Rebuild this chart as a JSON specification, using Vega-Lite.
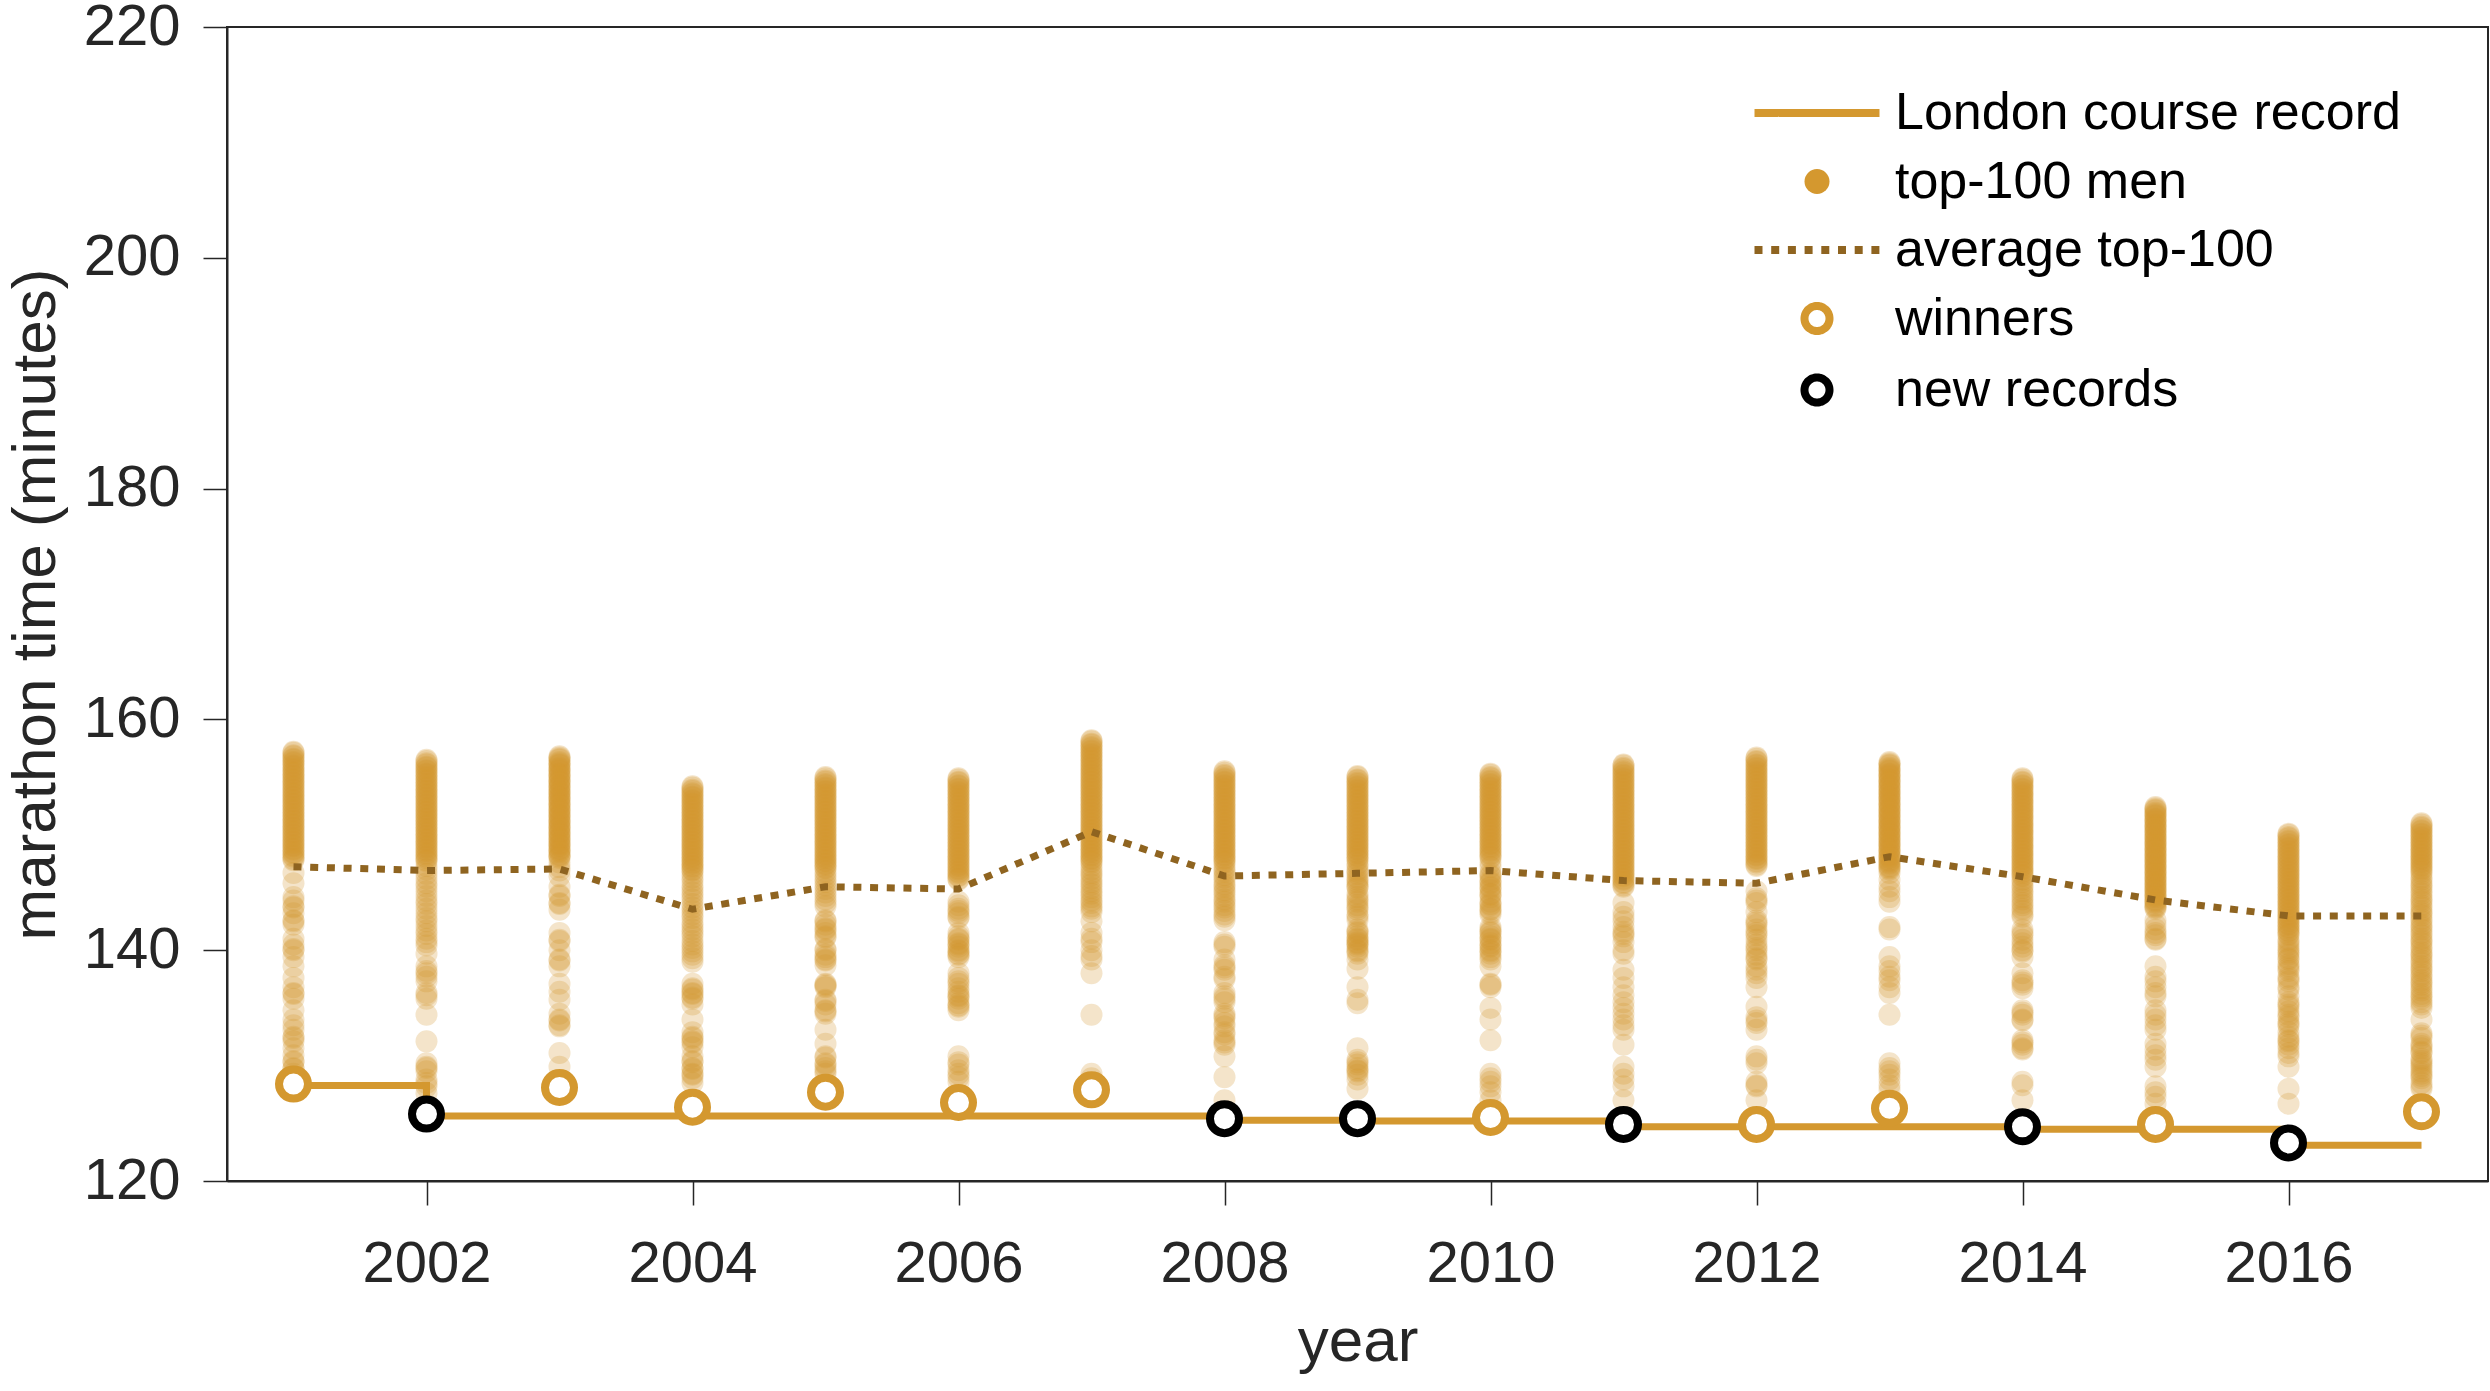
{
"$schema":"https://vega.github.io/schema/vega-lite/v6.json",
"width":2261,"height":1154,
"autosize":{"type":"none"},
"padding":{"left":227,"top":27,"right":2,"bottom":210},
"background":"white",
"config":{
"view":{"stroke":"#262626","strokeWidth":2},
"axis":{"domainColor":"#262626","domainWidth":2,"tickColor":"#262626","tickWidth":1.5,"tickSize":24,"labelFont":"Liberation Sans","labelFontSize":58,"labelColor":"#262626","titleFont":"Liberation Sans","titleFontSize":62,"titleFontWeight":"normal","titleColor":"#262626","grid":false},
"legend":{"orient":"none","legendX":1564,"legendY":60,"padding":0,"rowPadding":13.5,"labelFont":"Liberation Sans","labelFontSize":52,"labelColor":"#000000","labelOffset":52,"labelLimit":1000,"symbolSize":625,"symbolStrokeWidth":8,"symbolOpacity":1}
},
"datasets":{
"rec":[{"yr":2001,"t":128.27},{"yr":2002,"t":125.63},{"yr":2008,"t":125.27},{"yr":2009,"t":125.2},{"yr":2011,"t":124.7},{"yr":2014,"t":124.48},{"yr":2016,"t":123.1},{"yr":2017,"t":123.1}],
"avg":[{"yr":2001,"t":147.24},{"yr":2002,"t":146.9},{"yr":2003,"t":147.04},{"yr":2004,"t":143.55},{"yr":2005,"t":145.5},{"yr":2006,"t":145.3},{"yr":2007,"t":150.27},{"yr":2008,"t":146.43},{"yr":2009,"t":146.66},{"yr":2010,"t":146.9},{"yr":2011,"t":146.03},{"yr":2012,"t":145.8},{"yr":2013,"t":148.1},{"yr":2014,"t":146.37},{"yr":2015,"t":144.35},{"yr":2016,"t":142.97},{"yr":2017,"t":142.97}],
"win":[{"yr":2001,"t":128.4},{"yr":2003,"t":128.1},{"yr":2004,"t":126.4},{"yr":2005,"t":127.7},{"yr":2006,"t":126.8},{"yr":2007,"t":127.9},{"yr":2010,"t":125.5},{"yr":2012,"t":124.9},{"yr":2013,"t":126.3},{"yr":2015,"t":124.9},{"yr":2017,"t":126.0}],
"new":[{"yr":2002,"t":125.8},{"yr":2008,"t":125.4},{"yr":2009,"t":125.4},{"yr":2011,"t":124.9},{"yr":2014,"t":124.7},{"yr":2016,"t":123.3}],
"top":[
{"yr":2001,"t":157.2},{"yr":2001,"t":157.1},{"yr":2001,"t":156.9},{"yr":2001,"t":156.8},{"yr":2001,"t":156.6},{"yr":2001,"t":156.5},{"yr":2001,"t":156.3},{"yr":2001,"t":156.2},{"yr":2001,"t":156.0},{"yr":2001,"t":155.9},{"yr":2001,"t":155.7},{"yr":2001,"t":155.6},{"yr":2001,"t":155.4},{"yr":2001,"t":155.3},{"yr":2001,"t":155.1},{"yr":2001,"t":155.0},{"yr":2001,"t":154.8},{"yr":2001,"t":154.7},{"yr":2001,"t":154.5},{"yr":2001,"t":154.4},{"yr":2001,"t":154.2},{"yr":2001,"t":154.1},{"yr":2001,"t":153.9},{"yr":2001,"t":153.8},{"yr":2001,"t":153.6},{"yr":2001,"t":153.5},{"yr":2001,"t":153.3},{"yr":2001,"t":153.2},{"yr":2001,"t":153.0},{"yr":2001,"t":152.9},{"yr":2001,"t":152.7},{"yr":2001,"t":152.6},{"yr":2001,"t":152.4},{"yr":2001,"t":152.3},{"yr":2001,"t":152.1},{"yr":2001,"t":152.0},{"yr":2001,"t":151.8},{"yr":2001,"t":151.7},{"yr":2001,"t":151.5},{"yr":2001,"t":151.4},{"yr":2001,"t":151.2},{"yr":2001,"t":151.1},{"yr":2001,"t":150.9},{"yr":2001,"t":150.8},{"yr":2001,"t":150.6},{"yr":2001,"t":150.5},{"yr":2001,"t":150.3},{"yr":2001,"t":150.2},{"yr":2001,"t":150.0},{"yr":2001,"t":149.9},{"yr":2001,"t":149.7},{"yr":2001,"t":149.6},{"yr":2001,"t":149.4},{"yr":2001,"t":149.3},{"yr":2001,"t":149.1},{"yr":2001,"t":149.0},{"yr":2001,"t":148.8},{"yr":2001,"t":148.7},{"yr":2001,"t":148.5},{"yr":2001,"t":148.4},{"yr":2001,"t":148.2},{"yr":2001,"t":148.1},{"yr":2001,"t":147.9},{"yr":2001,"t":147.8},
{"yr":2001,"t":146.7},{"yr":2001,"t":145.8},{"yr":2001,"t":144.6},{"yr":2001,"t":144.3},{"yr":2001,"t":143.8},{"yr":2001,"t":143.7},{"yr":2001,"t":143.2},{"yr":2001,"t":142.6},{"yr":2001,"t":142.5},{"yr":2001,"t":142.2},{"yr":2001,"t":141.0},{"yr":2001,"t":140.5},{"yr":2001,"t":140.0},{"yr":2001,"t":140.1},{"yr":2001,"t":139.4},{"yr":2001,"t":138.6},{"yr":2001,"t":137.6},{"yr":2001,"t":136.8},{"yr":2001,"t":136.3},{"yr":2001,"t":136.2},{"yr":2001,"t":135.8},{"yr":2001,"t":134.8},{"yr":2001,"t":134.0},{"yr":2001,"t":133.5},{"yr":2001,"t":133.1},{"yr":2001,"t":132.5},{"yr":2001,"t":132.4},{"yr":2001,"t":132.1},{"yr":2001,"t":131.5},{"yr":2001,"t":130.9},{"yr":2001,"t":130.3},{"yr":2001,"t":130.4},{"yr":2001,"t":129.8},{"yr":2001,"t":129.7},{"yr":2001,"t":129.3},{"yr":2001,"t":128.4},
{"yr":2002,"t":156.5},{"yr":2002,"t":156.4},{"yr":2002,"t":156.2},{"yr":2002,"t":156.1},{"yr":2002,"t":155.9},{"yr":2002,"t":155.8},{"yr":2002,"t":155.6},{"yr":2002,"t":155.5},{"yr":2002,"t":155.3},{"yr":2002,"t":155.2},{"yr":2002,"t":155.0},{"yr":2002,"t":154.9},{"yr":2002,"t":154.7},{"yr":2002,"t":154.6},{"yr":2002,"t":154.4},{"yr":2002,"t":154.3},{"yr":2002,"t":154.1},{"yr":2002,"t":154.0},{"yr":2002,"t":153.8},{"yr":2002,"t":153.7},{"yr":2002,"t":153.5},{"yr":2002,"t":153.4},{"yr":2002,"t":153.2},{"yr":2002,"t":153.1},{"yr":2002,"t":152.9},{"yr":2002,"t":152.8},{"yr":2002,"t":152.6},{"yr":2002,"t":152.5},{"yr":2002,"t":152.3},{"yr":2002,"t":152.2},{"yr":2002,"t":152.0},{"yr":2002,"t":151.9},{"yr":2002,"t":151.7},{"yr":2002,"t":151.6},{"yr":2002,"t":151.4},{"yr":2002,"t":151.3},{"yr":2002,"t":151.1},{"yr":2002,"t":151.0},{"yr":2002,"t":150.8},{"yr":2002,"t":150.7},{"yr":2002,"t":150.5},{"yr":2002,"t":150.4},{"yr":2002,"t":150.2},{"yr":2002,"t":150.1},{"yr":2002,"t":149.9},{"yr":2002,"t":149.8},{"yr":2002,"t":149.6},{"yr":2002,"t":149.5},{"yr":2002,"t":149.3},{"yr":2002,"t":149.2},{"yr":2002,"t":149.0},{"yr":2002,"t":148.9},{"yr":2002,"t":148.7},{"yr":2002,"t":148.6},{"yr":2002,"t":148.4},{"yr":2002,"t":148.3},{"yr":2002,"t":148.1},{"yr":2002,"t":148.0},{"yr":2002,"t":147.8},{"yr":2002,"t":147.7},
{"yr":2002,"t":147.3},{"yr":2002,"t":147.0},{"yr":2002,"t":146.6},{"yr":2002,"t":146.2},{"yr":2002,"t":145.8},{"yr":2002,"t":145.5},{"yr":2002,"t":145.1},{"yr":2002,"t":144.7},{"yr":2002,"t":144.3},{"yr":2002,"t":144.0},{"yr":2002,"t":143.6},{"yr":2002,"t":143.2},{"yr":2002,"t":142.8},{"yr":2002,"t":142.5},{"yr":2002,"t":142.1},{"yr":2002,"t":141.7},{"yr":2002,"t":141.4},{"yr":2002,"t":141.0},{"yr":2002,"t":140.7},{"yr":2002,"t":140.4},
{"yr":2002,"t":139.7},{"yr":2002,"t":138.6},{"yr":2002,"t":138.2},{"yr":2002,"t":138.0},{"yr":2002,"t":137.7},{"yr":2002,"t":137.3},{"yr":2002,"t":136.3},{"yr":2002,"t":136.1},{"yr":2002,"t":135.8},{"yr":2002,"t":134.4},{"yr":2002,"t":132.1},{"yr":2002,"t":130.2},{"yr":2002,"t":129.9},{"yr":2002,"t":129.8},{"yr":2002,"t":129.5},{"yr":2002,"t":128.8},{"yr":2002,"t":128.5},{"yr":2002,"t":128.2},{"yr":2002,"t":127.6},{"yr":2002,"t":125.8},
{"yr":2003,"t":156.8},{"yr":2003,"t":156.7},{"yr":2003,"t":156.6},{"yr":2003,"t":156.5},{"yr":2003,"t":156.3},{"yr":2003,"t":156.2},{"yr":2003,"t":156.1},{"yr":2003,"t":156.0},{"yr":2003,"t":155.8},{"yr":2003,"t":155.7},{"yr":2003,"t":155.6},{"yr":2003,"t":155.5},{"yr":2003,"t":155.3},{"yr":2003,"t":155.2},{"yr":2003,"t":155.1},{"yr":2003,"t":155.0},{"yr":2003,"t":154.8},{"yr":2003,"t":154.7},{"yr":2003,"t":154.6},{"yr":2003,"t":154.5},{"yr":2003,"t":154.3},{"yr":2003,"t":154.2},{"yr":2003,"t":154.1},{"yr":2003,"t":154.0},{"yr":2003,"t":153.8},{"yr":2003,"t":153.7},{"yr":2003,"t":153.6},{"yr":2003,"t":153.5},{"yr":2003,"t":153.3},{"yr":2003,"t":153.2},{"yr":2003,"t":153.1},{"yr":2003,"t":153.0},{"yr":2003,"t":152.8},{"yr":2003,"t":152.7},{"yr":2003,"t":152.6},{"yr":2003,"t":152.5},{"yr":2003,"t":152.3},{"yr":2003,"t":152.2},{"yr":2003,"t":152.1},{"yr":2003,"t":152.0},{"yr":2003,"t":151.8},{"yr":2003,"t":151.7},{"yr":2003,"t":151.6},{"yr":2003,"t":151.5},{"yr":2003,"t":151.3},{"yr":2003,"t":151.2},{"yr":2003,"t":151.1},{"yr":2003,"t":151.0},{"yr":2003,"t":150.8},{"yr":2003,"t":150.7},{"yr":2003,"t":150.6},{"yr":2003,"t":150.5},{"yr":2003,"t":150.3},{"yr":2003,"t":150.2},{"yr":2003,"t":150.1},{"yr":2003,"t":150.0},{"yr":2003,"t":149.8},{"yr":2003,"t":149.7},{"yr":2003,"t":149.6},{"yr":2003,"t":149.5},{"yr":2003,"t":149.3},{"yr":2003,"t":149.2},{"yr":2003,"t":149.1},{"yr":2003,"t":149.0},{"yr":2003,"t":148.8},{"yr":2003,"t":148.7},{"yr":2003,"t":148.6},{"yr":2003,"t":148.5},{"yr":2003,"t":148.3},{"yr":2003,"t":148.2},{"yr":2003,"t":148.1},{"yr":2003,"t":148.0},
{"yr":2003,"t":147.6},{"yr":2003,"t":147.2},{"yr":2003,"t":146.9},{"yr":2003,"t":146.4},{"yr":2003,"t":145.5},{"yr":2003,"t":144.8},{"yr":2003,"t":144.7},{"yr":2003,"t":144.1},{"yr":2003,"t":144.0},{"yr":2003,"t":143.5},{"yr":2003,"t":141.5},{"yr":2003,"t":140.9},{"yr":2003,"t":140.8},{"yr":2003,"t":140.0},{"yr":2003,"t":139.2},{"yr":2003,"t":139.1},{"yr":2003,"t":138.6},{"yr":2003,"t":137.1},{"yr":2003,"t":136.4},{"yr":2003,"t":135.7},{"yr":2003,"t":134.5},{"yr":2003,"t":134.0},{"yr":2003,"t":133.9},{"yr":2003,"t":133.5},{"yr":2003,"t":133.4},{"yr":2003,"t":131.1},{"yr":2003,"t":129.9},{"yr":2003,"t":128.1},
{"yr":2004,"t":154.2},{"yr":2004,"t":154.1},{"yr":2004,"t":153.9},{"yr":2004,"t":153.8},{"yr":2004,"t":153.6},{"yr":2004,"t":153.5},{"yr":2004,"t":153.3},{"yr":2004,"t":153.2},{"yr":2004,"t":153.0},{"yr":2004,"t":152.9},{"yr":2004,"t":152.7},{"yr":2004,"t":152.6},{"yr":2004,"t":152.4},{"yr":2004,"t":152.3},{"yr":2004,"t":152.1},{"yr":2004,"t":152.0},{"yr":2004,"t":151.8},{"yr":2004,"t":151.7},{"yr":2004,"t":151.5},{"yr":2004,"t":151.4},{"yr":2004,"t":151.2},{"yr":2004,"t":151.1},{"yr":2004,"t":150.9},{"yr":2004,"t":150.8},{"yr":2004,"t":150.6},{"yr":2004,"t":150.5},{"yr":2004,"t":150.3},{"yr":2004,"t":150.2},{"yr":2004,"t":150.0},{"yr":2004,"t":149.9},{"yr":2004,"t":149.7},{"yr":2004,"t":149.6},{"yr":2004,"t":149.4},{"yr":2004,"t":149.3},{"yr":2004,"t":149.1},{"yr":2004,"t":149.0},{"yr":2004,"t":148.8},{"yr":2004,"t":148.7},{"yr":2004,"t":148.5},{"yr":2004,"t":148.4},{"yr":2004,"t":148.2},{"yr":2004,"t":148.1},{"yr":2004,"t":147.9},{"yr":2004,"t":147.8},{"yr":2004,"t":147.6},{"yr":2004,"t":147.5},{"yr":2004,"t":147.3},{"yr":2004,"t":147.2},{"yr":2004,"t":147.0},{"yr":2004,"t":146.9},
{"yr":2004,"t":146.6},{"yr":2004,"t":146.3},{"yr":2004,"t":146.0},{"yr":2004,"t":145.6},{"yr":2004,"t":145.3},{"yr":2004,"t":145.0},{"yr":2004,"t":144.7},{"yr":2004,"t":144.4},{"yr":2004,"t":144.0},{"yr":2004,"t":143.7},{"yr":2004,"t":143.4},{"yr":2004,"t":143.1},{"yr":2004,"t":142.8},{"yr":2004,"t":142.4},{"yr":2004,"t":142.1},{"yr":2004,"t":141.8},{"yr":2004,"t":141.5},{"yr":2004,"t":141.2},{"yr":2004,"t":140.8},{"yr":2004,"t":140.5},{"yr":2004,"t":140.2},{"yr":2004,"t":139.9},{"yr":2004,"t":139.6},{"yr":2004,"t":139.3},{"yr":2004,"t":139.0},
{"yr":2004,"t":137.1},{"yr":2004,"t":136.7},{"yr":2004,"t":136.6},{"yr":2004,"t":136.3},{"yr":2004,"t":136.2},{"yr":2004,"t":135.9},{"yr":2004,"t":135.8},{"yr":2004,"t":135.3},{"yr":2004,"t":134.0},{"yr":2004,"t":132.9},{"yr":2004,"t":132.5},{"yr":2004,"t":132.4},{"yr":2004,"t":132.1},{"yr":2004,"t":132.0},{"yr":2004,"t":131.6},{"yr":2004,"t":130.8},{"yr":2004,"t":130.4},{"yr":2004,"t":130.3},{"yr":2004,"t":129.8},{"yr":2004,"t":129.7},{"yr":2004,"t":129.3},{"yr":2004,"t":129.2},{"yr":2004,"t":128.9},{"yr":2004,"t":128.5},{"yr":2004,"t":126.4},
{"yr":2005,"t":155.0},{"yr":2005,"t":154.9},{"yr":2005,"t":154.7},{"yr":2005,"t":154.6},{"yr":2005,"t":154.4},{"yr":2005,"t":154.3},{"yr":2005,"t":154.1},{"yr":2005,"t":154.0},{"yr":2005,"t":153.8},{"yr":2005,"t":153.7},{"yr":2005,"t":153.5},{"yr":2005,"t":153.4},{"yr":2005,"t":153.2},{"yr":2005,"t":153.1},{"yr":2005,"t":152.9},{"yr":2005,"t":152.8},{"yr":2005,"t":152.6},{"yr":2005,"t":152.5},{"yr":2005,"t":152.3},{"yr":2005,"t":152.2},{"yr":2005,"t":152.0},{"yr":2005,"t":151.9},{"yr":2005,"t":151.7},{"yr":2005,"t":151.6},{"yr":2005,"t":151.4},{"yr":2005,"t":151.3},{"yr":2005,"t":151.1},{"yr":2005,"t":151.0},{"yr":2005,"t":150.8},{"yr":2005,"t":150.7},{"yr":2005,"t":150.5},{"yr":2005,"t":150.4},{"yr":2005,"t":150.2},{"yr":2005,"t":150.1},{"yr":2005,"t":149.9},{"yr":2005,"t":149.8},{"yr":2005,"t":149.6},{"yr":2005,"t":149.5},{"yr":2005,"t":149.3},{"yr":2005,"t":149.2},{"yr":2005,"t":149.0},{"yr":2005,"t":148.9},{"yr":2005,"t":148.7},{"yr":2005,"t":148.6},{"yr":2005,"t":148.4},{"yr":2005,"t":148.3},{"yr":2005,"t":148.1},{"yr":2005,"t":148.0},{"yr":2005,"t":147.8},{"yr":2005,"t":147.7},{"yr":2005,"t":147.5},{"yr":2005,"t":147.4},{"yr":2005,"t":147.2},{"yr":2005,"t":147.1},
{"yr":2005,"t":146.8},{"yr":2005,"t":146.5},{"yr":2005,"t":146.2},{"yr":2005,"t":145.9},{"yr":2005,"t":145.6},{"yr":2005,"t":145.3},{"yr":2005,"t":145.0},{"yr":2005,"t":144.7},{"yr":2005,"t":144.4},{"yr":2005,"t":144.1},{"yr":2005,"t":143.8},
{"yr":2005,"t":142.6},{"yr":2005,"t":142.5},{"yr":2005,"t":142.2},{"yr":2005,"t":141.9},{"yr":2005,"t":141.8},{"yr":2005,"t":141.5},{"yr":2005,"t":141.2},{"yr":2005,"t":141.1},{"yr":2005,"t":140.0},{"yr":2005,"t":140.1},{"yr":2005,"t":139.6},{"yr":2005,"t":139.4},{"yr":2005,"t":139.2},{"yr":2005,"t":139.1},{"yr":2005,"t":138.7},{"yr":2005,"t":137.1},{"yr":2005,"t":137.0},{"yr":2005,"t":136.8},{"yr":2005,"t":136.9},{"yr":2005,"t":135.7},{"yr":2005,"t":135.6},{"yr":2005,"t":135.3},{"yr":2005,"t":134.8},{"yr":2005,"t":134.7},{"yr":2005,"t":134.5},{"yr":2005,"t":133.1},{"yr":2005,"t":131.9},{"yr":2005,"t":130.8},{"yr":2005,"t":130.7},{"yr":2005,"t":130.2},{"yr":2005,"t":130.1},{"yr":2005,"t":129.8},{"yr":2005,"t":129.5},{"yr":2005,"t":129.3},{"yr":2005,"t":127.7},
{"yr":2006,"t":154.9},{"yr":2006,"t":154.8},{"yr":2006,"t":154.6},{"yr":2006,"t":154.5},{"yr":2006,"t":154.3},{"yr":2006,"t":154.2},{"yr":2006,"t":154.0},{"yr":2006,"t":153.9},{"yr":2006,"t":153.7},{"yr":2006,"t":153.6},{"yr":2006,"t":153.4},{"yr":2006,"t":153.3},{"yr":2006,"t":153.1},{"yr":2006,"t":153.0},{"yr":2006,"t":152.8},{"yr":2006,"t":152.7},{"yr":2006,"t":152.5},{"yr":2006,"t":152.4},{"yr":2006,"t":152.2},{"yr":2006,"t":152.1},{"yr":2006,"t":151.9},{"yr":2006,"t":151.8},{"yr":2006,"t":151.6},{"yr":2006,"t":151.5},{"yr":2006,"t":151.3},{"yr":2006,"t":151.2},{"yr":2006,"t":151.0},{"yr":2006,"t":150.9},{"yr":2006,"t":150.7},{"yr":2006,"t":150.6},{"yr":2006,"t":150.4},{"yr":2006,"t":150.3},{"yr":2006,"t":150.1},{"yr":2006,"t":150.0},{"yr":2006,"t":149.8},{"yr":2006,"t":149.7},{"yr":2006,"t":149.5},{"yr":2006,"t":149.4},{"yr":2006,"t":149.2},{"yr":2006,"t":149.1},{"yr":2006,"t":148.9},{"yr":2006,"t":148.8},{"yr":2006,"t":148.6},{"yr":2006,"t":148.5},{"yr":2006,"t":148.3},{"yr":2006,"t":148.2},{"yr":2006,"t":148.0},{"yr":2006,"t":147.9},{"yr":2006,"t":147.7},{"yr":2006,"t":147.6},{"yr":2006,"t":147.4},{"yr":2006,"t":147.3},{"yr":2006,"t":147.1},{"yr":2006,"t":147.0},{"yr":2006,"t":146.8},{"yr":2006,"t":146.7},{"yr":2006,"t":146.5},{"yr":2006,"t":146.4},{"yr":2006,"t":146.2},{"yr":2006,"t":146.1},
{"yr":2006,"t":144.2},{"yr":2006,"t":143.9},{"yr":2006,"t":143.6},{"yr":2006,"t":143.4},{"yr":2006,"t":143.2},{"yr":2006,"t":142.9},{"yr":2006,"t":142.8},{"yr":2006,"t":141.5},{"yr":2006,"t":141.2},{"yr":2006,"t":141.0},{"yr":2006,"t":140.9},{"yr":2006,"t":140.6},{"yr":2006,"t":140.5},{"yr":2006,"t":140.3},{"yr":2006,"t":140.0},{"yr":2006,"t":139.9},{"yr":2006,"t":139.7},{"yr":2006,"t":139.6},{"yr":2006,"t":139.4},{"yr":2006,"t":138.0},{"yr":2006,"t":137.6},{"yr":2006,"t":137.3},{"yr":2006,"t":137.1},{"yr":2006,"t":136.7},{"yr":2006,"t":136.4},{"yr":2006,"t":136.1},{"yr":2006,"t":136.0},{"yr":2006,"t":135.8},{"yr":2006,"t":135.4},{"yr":2006,"t":135.2},{"yr":2006,"t":135.1},{"yr":2006,"t":134.8},{"yr":2006,"t":130.8},{"yr":2006,"t":130.3},{"yr":2006,"t":130.1},{"yr":2006,"t":129.6},{"yr":2006,"t":129.3},{"yr":2006,"t":129.0},{"yr":2006,"t":128.6},{"yr":2006,"t":126.8},
{"yr":2007,"t":158.2},{"yr":2007,"t":158.1},{"yr":2007,"t":157.9},{"yr":2007,"t":157.8},{"yr":2007,"t":157.6},{"yr":2007,"t":157.5},{"yr":2007,"t":157.3},{"yr":2007,"t":157.2},{"yr":2007,"t":157.0},{"yr":2007,"t":156.9},{"yr":2007,"t":156.7},{"yr":2007,"t":156.6},{"yr":2007,"t":156.4},{"yr":2007,"t":156.3},{"yr":2007,"t":156.1},{"yr":2007,"t":156.0},{"yr":2007,"t":155.8},{"yr":2007,"t":155.7},{"yr":2007,"t":155.5},{"yr":2007,"t":155.4},{"yr":2007,"t":155.2},{"yr":2007,"t":155.1},{"yr":2007,"t":154.9},{"yr":2007,"t":154.8},{"yr":2007,"t":154.6},{"yr":2007,"t":154.5},{"yr":2007,"t":154.3},{"yr":2007,"t":154.2},{"yr":2007,"t":154.0},{"yr":2007,"t":153.9},{"yr":2007,"t":153.7},{"yr":2007,"t":153.6},{"yr":2007,"t":153.4},{"yr":2007,"t":153.3},{"yr":2007,"t":153.1},{"yr":2007,"t":153.0},{"yr":2007,"t":152.8},{"yr":2007,"t":152.7},{"yr":2007,"t":152.5},{"yr":2007,"t":152.4},{"yr":2007,"t":152.2},{"yr":2007,"t":152.1},{"yr":2007,"t":151.9},{"yr":2007,"t":151.8},{"yr":2007,"t":151.6},{"yr":2007,"t":151.5},{"yr":2007,"t":151.3},{"yr":2007,"t":151.2},{"yr":2007,"t":151.0},{"yr":2007,"t":150.9},{"yr":2007,"t":150.7},{"yr":2007,"t":150.6},{"yr":2007,"t":150.4},{"yr":2007,"t":150.3},{"yr":2007,"t":150.1},{"yr":2007,"t":150.0},{"yr":2007,"t":149.8},{"yr":2007,"t":149.7},{"yr":2007,"t":149.5},{"yr":2007,"t":149.4},{"yr":2007,"t":149.2},{"yr":2007,"t":149.1},{"yr":2007,"t":148.9},{"yr":2007,"t":148.8},{"yr":2007,"t":148.6},{"yr":2007,"t":148.5},{"yr":2007,"t":148.3},{"yr":2007,"t":148.2},{"yr":2007,"t":148.0},{"yr":2007,"t":147.9},{"yr":2007,"t":147.7},{"yr":2007,"t":147.6},
{"yr":2007,"t":147.3},{"yr":2007,"t":147.0},{"yr":2007,"t":146.7},{"yr":2007,"t":146.5},{"yr":2007,"t":146.2},{"yr":2007,"t":145.9},{"yr":2007,"t":145.7},{"yr":2007,"t":145.4},{"yr":2007,"t":145.1},{"yr":2007,"t":144.9},{"yr":2007,"t":144.6},{"yr":2007,"t":144.3},{"yr":2007,"t":144.1},{"yr":2007,"t":143.8},{"yr":2007,"t":143.6},{"yr":2007,"t":143.3},
{"yr":2007,"t":142.5},{"yr":2007,"t":141.5},{"yr":2007,"t":141.0},{"yr":2007,"t":140.7},{"yr":2007,"t":140.0},{"yr":2007,"t":139.5},{"yr":2007,"t":139.2},{"yr":2007,"t":138.0},{"yr":2007,"t":134.4},{"yr":2007,"t":129.3},{"yr":2007,"t":128.9},{"yr":2007,"t":127.9},
{"yr":2008,"t":155.5},{"yr":2008,"t":155.4},{"yr":2008,"t":155.2},{"yr":2008,"t":155.1},{"yr":2008,"t":154.9},{"yr":2008,"t":154.8},{"yr":2008,"t":154.6},{"yr":2008,"t":154.5},{"yr":2008,"t":154.3},{"yr":2008,"t":154.2},{"yr":2008,"t":154.0},{"yr":2008,"t":153.9},{"yr":2008,"t":153.7},{"yr":2008,"t":153.6},{"yr":2008,"t":153.4},{"yr":2008,"t":153.3},{"yr":2008,"t":153.1},{"yr":2008,"t":153.0},{"yr":2008,"t":152.8},{"yr":2008,"t":152.7},{"yr":2008,"t":152.5},{"yr":2008,"t":152.4},{"yr":2008,"t":152.2},{"yr":2008,"t":152.1},{"yr":2008,"t":151.9},{"yr":2008,"t":151.8},{"yr":2008,"t":151.6},{"yr":2008,"t":151.5},{"yr":2008,"t":151.3},{"yr":2008,"t":151.2},{"yr":2008,"t":151.0},{"yr":2008,"t":150.9},{"yr":2008,"t":150.7},{"yr":2008,"t":150.6},{"yr":2008,"t":150.4},{"yr":2008,"t":150.3},{"yr":2008,"t":150.1},{"yr":2008,"t":150.0},{"yr":2008,"t":149.8},{"yr":2008,"t":149.7},{"yr":2008,"t":149.5},{"yr":2008,"t":149.4},{"yr":2008,"t":149.2},{"yr":2008,"t":149.1},{"yr":2008,"t":148.9},{"yr":2008,"t":148.8},{"yr":2008,"t":148.6},{"yr":2008,"t":148.5},{"yr":2008,"t":148.3},{"yr":2008,"t":148.2},{"yr":2008,"t":148.0},{"yr":2008,"t":147.9},{"yr":2008,"t":147.7},{"yr":2008,"t":147.6},
{"yr":2008,"t":147.3},{"yr":2008,"t":147.0},{"yr":2008,"t":146.8},{"yr":2008,"t":146.5},{"yr":2008,"t":146.3},{"yr":2008,"t":146.0},{"yr":2008,"t":145.7},{"yr":2008,"t":145.5},{"yr":2008,"t":145.2},{"yr":2008,"t":145.0},{"yr":2008,"t":144.7},{"yr":2008,"t":144.4},{"yr":2008,"t":144.2},{"yr":2008,"t":143.9},{"yr":2008,"t":143.7},{"yr":2008,"t":143.4},{"yr":2008,"t":143.1},{"yr":2008,"t":142.9},
{"yr":2008,"t":142.6},{"yr":2008,"t":140.7},{"yr":2008,"t":140.5},{"yr":2008,"t":140.3},{"yr":2008,"t":139.2},{"yr":2008,"t":138.7},{"yr":2008,"t":138.5},{"yr":2008,"t":138.3},{"yr":2008,"t":137.7},{"yr":2008,"t":137.5},{"yr":2008,"t":136.3},{"yr":2008,"t":136.0},{"yr":2008,"t":135.8},{"yr":2008,"t":135.5},{"yr":2008,"t":134.5},{"yr":2008,"t":134.3},{"yr":2008,"t":134.1},{"yr":2008,"t":133.7},{"yr":2008,"t":133.4},{"yr":2008,"t":132.9},{"yr":2008,"t":132.7},{"yr":2008,"t":132.2},{"yr":2008,"t":132.0},{"yr":2008,"t":131.8},{"yr":2008,"t":130.8},{"yr":2008,"t":129.0},{"yr":2008,"t":127.0},{"yr":2008,"t":125.4},
{"yr":2009,"t":155.1},{"yr":2009,"t":155.0},{"yr":2009,"t":154.8},{"yr":2009,"t":154.7},{"yr":2009,"t":154.5},{"yr":2009,"t":154.4},{"yr":2009,"t":154.2},{"yr":2009,"t":154.1},{"yr":2009,"t":153.9},{"yr":2009,"t":153.8},{"yr":2009,"t":153.6},{"yr":2009,"t":153.5},{"yr":2009,"t":153.3},{"yr":2009,"t":153.2},{"yr":2009,"t":153.0},{"yr":2009,"t":152.9},{"yr":2009,"t":152.7},{"yr":2009,"t":152.6},{"yr":2009,"t":152.4},{"yr":2009,"t":152.3},{"yr":2009,"t":152.1},{"yr":2009,"t":152.0},{"yr":2009,"t":151.8},{"yr":2009,"t":151.7},{"yr":2009,"t":151.5},{"yr":2009,"t":151.4},{"yr":2009,"t":151.2},{"yr":2009,"t":151.1},{"yr":2009,"t":150.9},{"yr":2009,"t":150.8},{"yr":2009,"t":150.6},{"yr":2009,"t":150.5},{"yr":2009,"t":150.3},{"yr":2009,"t":150.2},{"yr":2009,"t":150.0},{"yr":2009,"t":149.9},{"yr":2009,"t":149.7},{"yr":2009,"t":149.6},{"yr":2009,"t":149.4},{"yr":2009,"t":149.3},{"yr":2009,"t":149.1},{"yr":2009,"t":149.0},{"yr":2009,"t":148.8},{"yr":2009,"t":148.7},{"yr":2009,"t":148.5},{"yr":2009,"t":148.4},{"yr":2009,"t":148.2},{"yr":2009,"t":148.1},{"yr":2009,"t":147.9},{"yr":2009,"t":147.8},
{"yr":2009,"t":147.5},{"yr":2009,"t":147.3},{"yr":2009,"t":147.0},{"yr":2009,"t":146.8},{"yr":2009,"t":146.6},{"yr":2009,"t":146.3},{"yr":2009,"t":146.1},{"yr":2009,"t":145.9},{"yr":2009,"t":145.7},{"yr":2009,"t":145.5},
{"yr":2009,"t":145.4},{"yr":2009,"t":144.9},{"yr":2009,"t":144.6},{"yr":2009,"t":144.4},{"yr":2009,"t":144.2},{"yr":2009,"t":143.9},{"yr":2009,"t":143.7},{"yr":2009,"t":143.5},{"yr":2009,"t":143.1},{"yr":2009,"t":142.9},{"yr":2009,"t":142.6},{"yr":2009,"t":141.8},{"yr":2009,"t":141.6},{"yr":2009,"t":141.5},{"yr":2009,"t":141.2},{"yr":2009,"t":141.0},{"yr":2009,"t":140.9},{"yr":2009,"t":140.7},{"yr":2009,"t":140.6},{"yr":2009,"t":140.5},{"yr":2009,"t":140.3},{"yr":2009,"t":140.0},{"yr":2009,"t":139.9},{"yr":2009,"t":139.7},{"yr":2009,"t":139.2},{"yr":2009,"t":138.4},{"yr":2009,"t":136.8},{"yr":2009,"t":135.7},{"yr":2009,"t":135.4},{"yr":2009,"t":131.5},{"yr":2009,"t":130.5},{"yr":2009,"t":130.3},{"yr":2009,"t":130.1},{"yr":2009,"t":129.8},{"yr":2009,"t":129.6},{"yr":2009,"t":129.5},{"yr":2009,"t":129.2},{"yr":2009,"t":128.8},{"yr":2009,"t":128.0},{"yr":2009,"t":125.4},
{"yr":2010,"t":155.3},{"yr":2010,"t":155.2},{"yr":2010,"t":155.0},{"yr":2010,"t":154.9},{"yr":2010,"t":154.7},{"yr":2010,"t":154.6},{"yr":2010,"t":154.4},{"yr":2010,"t":154.3},{"yr":2010,"t":154.1},{"yr":2010,"t":154.0},{"yr":2010,"t":153.8},{"yr":2010,"t":153.7},{"yr":2010,"t":153.5},{"yr":2010,"t":153.4},{"yr":2010,"t":153.2},{"yr":2010,"t":153.1},{"yr":2010,"t":152.9},{"yr":2010,"t":152.8},{"yr":2010,"t":152.6},{"yr":2010,"t":152.5},{"yr":2010,"t":152.3},{"yr":2010,"t":152.2},{"yr":2010,"t":152.0},{"yr":2010,"t":151.9},{"yr":2010,"t":151.7},{"yr":2010,"t":151.6},{"yr":2010,"t":151.4},{"yr":2010,"t":151.3},{"yr":2010,"t":151.1},{"yr":2010,"t":151.0},{"yr":2010,"t":150.8},{"yr":2010,"t":150.7},{"yr":2010,"t":150.5},{"yr":2010,"t":150.4},{"yr":2010,"t":150.2},{"yr":2010,"t":150.1},{"yr":2010,"t":149.9},{"yr":2010,"t":149.8},{"yr":2010,"t":149.6},{"yr":2010,"t":149.5},{"yr":2010,"t":149.3},{"yr":2010,"t":149.2},{"yr":2010,"t":149.0},{"yr":2010,"t":148.9},{"yr":2010,"t":148.7},{"yr":2010,"t":148.6},{"yr":2010,"t":148.4},{"yr":2010,"t":148.3},{"yr":2010,"t":148.1},{"yr":2010,"t":148.0},
{"yr":2010,"t":147.6},{"yr":2010,"t":147.2},{"yr":2010,"t":146.7},{"yr":2010,"t":146.4},{"yr":2010,"t":146.5},{"yr":2010,"t":146.1},{"yr":2010,"t":145.9},{"yr":2010,"t":145.8},{"yr":2010,"t":145.5},{"yr":2010,"t":145.4},{"yr":2010,"t":145.2},{"yr":2010,"t":144.9},{"yr":2010,"t":144.8},{"yr":2010,"t":144.6},{"yr":2010,"t":144.2},{"yr":2010,"t":144.0},{"yr":2010,"t":143.9},{"yr":2010,"t":143.6},{"yr":2010,"t":143.5},{"yr":2010,"t":143.3},{"yr":2010,"t":143.1},{"yr":2010,"t":142.0},{"yr":2010,"t":141.8},{"yr":2010,"t":141.6},{"yr":2010,"t":141.5},{"yr":2010,"t":141.2},{"yr":2010,"t":141.0},{"yr":2010,"t":140.9},{"yr":2010,"t":140.6},{"yr":2010,"t":140.4},{"yr":2010,"t":140.3},{"yr":2010,"t":140.0},{"yr":2010,"t":139.9},{"yr":2010,"t":139.7},{"yr":2010,"t":139.4},{"yr":2010,"t":139.2},{"yr":2010,"t":138.6},{"yr":2010,"t":137.1},{"yr":2010,"t":137.0},{"yr":2010,"t":136.8},{"yr":2010,"t":135.0},{"yr":2010,"t":134.0},{"yr":2010,"t":132.2},{"yr":2010,"t":129.3},{"yr":2010,"t":128.9},{"yr":2010,"t":128.6},{"yr":2010,"t":125.5},{"yr":2010,"t":128.2},{"yr":2010,"t":127.7},{"yr":2010,"t":127.0},
{"yr":2011,"t":156.1},{"yr":2011,"t":156.0},{"yr":2011,"t":155.8},{"yr":2011,"t":155.7},{"yr":2011,"t":155.5},{"yr":2011,"t":155.4},{"yr":2011,"t":155.2},{"yr":2011,"t":155.1},{"yr":2011,"t":154.9},{"yr":2011,"t":154.8},{"yr":2011,"t":154.6},{"yr":2011,"t":154.5},{"yr":2011,"t":154.3},{"yr":2011,"t":154.2},{"yr":2011,"t":154.0},{"yr":2011,"t":153.9},{"yr":2011,"t":153.7},{"yr":2011,"t":153.6},{"yr":2011,"t":153.4},{"yr":2011,"t":153.3},{"yr":2011,"t":153.1},{"yr":2011,"t":153.0},{"yr":2011,"t":152.8},{"yr":2011,"t":152.7},{"yr":2011,"t":152.5},{"yr":2011,"t":152.4},{"yr":2011,"t":152.2},{"yr":2011,"t":152.1},{"yr":2011,"t":151.9},{"yr":2011,"t":151.8},{"yr":2011,"t":151.6},{"yr":2011,"t":151.5},{"yr":2011,"t":151.3},{"yr":2011,"t":151.2},{"yr":2011,"t":151.0},{"yr":2011,"t":150.9},{"yr":2011,"t":150.7},{"yr":2011,"t":150.6},{"yr":2011,"t":150.4},{"yr":2011,"t":150.3},{"yr":2011,"t":150.1},{"yr":2011,"t":150.0},{"yr":2011,"t":149.8},{"yr":2011,"t":149.7},{"yr":2011,"t":149.5},{"yr":2011,"t":149.4},{"yr":2011,"t":149.2},{"yr":2011,"t":149.1},{"yr":2011,"t":148.9},{"yr":2011,"t":148.8},{"yr":2011,"t":148.6},{"yr":2011,"t":148.5},{"yr":2011,"t":148.3},{"yr":2011,"t":148.2},{"yr":2011,"t":148.0},{"yr":2011,"t":147.9},{"yr":2011,"t":147.7},{"yr":2011,"t":147.6},{"yr":2011,"t":147.4},{"yr":2011,"t":147.3},{"yr":2011,"t":147.1},{"yr":2011,"t":147.0},{"yr":2011,"t":146.8},{"yr":2011,"t":146.7},{"yr":2011,"t":146.5},{"yr":2011,"t":146.4},{"yr":2011,"t":146.2},{"yr":2011,"t":146.1},{"yr":2011,"t":145.9},{"yr":2011,"t":145.8},{"yr":2011,"t":145.6},{"yr":2011,"t":145.5},
{"yr":2011,"t":144.1},{"yr":2011,"t":143.3},{"yr":2011,"t":142.9},{"yr":2011,"t":142.5},{"yr":2011,"t":142.0},{"yr":2011,"t":141.6},{"yr":2011,"t":141.4},{"yr":2011,"t":141.2},{"yr":2011,"t":140.7},{"yr":2011,"t":140.0},{"yr":2011,"t":139.7},{"yr":2011,"t":138.3},{"yr":2011,"t":137.6},{"yr":2011,"t":136.8},{"yr":2011,"t":136.1},{"yr":2011,"t":135.5},{"yr":2011,"t":135.0},{"yr":2011,"t":134.5},{"yr":2011,"t":134.0},{"yr":2011,"t":133.5},{"yr":2011,"t":133.1},{"yr":2011,"t":131.8},{"yr":2011,"t":129.9},{"yr":2011,"t":129.3},{"yr":2011,"t":128.8},{"yr":2011,"t":128.2},{"yr":2011,"t":127.0},{"yr":2011,"t":124.9},
{"yr":2012,"t":156.7},{"yr":2012,"t":156.6},{"yr":2012,"t":156.4},{"yr":2012,"t":156.3},{"yr":2012,"t":156.1},{"yr":2012,"t":156.0},{"yr":2012,"t":155.8},{"yr":2012,"t":155.7},{"yr":2012,"t":155.5},{"yr":2012,"t":155.4},{"yr":2012,"t":155.2},{"yr":2012,"t":155.1},{"yr":2012,"t":154.9},{"yr":2012,"t":154.8},{"yr":2012,"t":154.6},{"yr":2012,"t":154.5},{"yr":2012,"t":154.3},{"yr":2012,"t":154.2},{"yr":2012,"t":154.0},{"yr":2012,"t":153.9},{"yr":2012,"t":153.7},{"yr":2012,"t":153.6},{"yr":2012,"t":153.4},{"yr":2012,"t":153.3},{"yr":2012,"t":153.1},{"yr":2012,"t":153.0},{"yr":2012,"t":152.8},{"yr":2012,"t":152.7},{"yr":2012,"t":152.5},{"yr":2012,"t":152.4},{"yr":2012,"t":152.2},{"yr":2012,"t":152.1},{"yr":2012,"t":151.9},{"yr":2012,"t":151.8},{"yr":2012,"t":151.6},{"yr":2012,"t":151.5},{"yr":2012,"t":151.3},{"yr":2012,"t":151.2},{"yr":2012,"t":151.0},{"yr":2012,"t":150.9},{"yr":2012,"t":150.7},{"yr":2012,"t":150.6},{"yr":2012,"t":150.4},{"yr":2012,"t":150.3},{"yr":2012,"t":150.1},{"yr":2012,"t":150.0},{"yr":2012,"t":149.8},{"yr":2012,"t":149.7},{"yr":2012,"t":149.5},{"yr":2012,"t":149.4},{"yr":2012,"t":149.2},{"yr":2012,"t":149.1},{"yr":2012,"t":148.9},{"yr":2012,"t":148.8},{"yr":2012,"t":148.6},{"yr":2012,"t":148.5},{"yr":2012,"t":148.3},{"yr":2012,"t":148.2},{"yr":2012,"t":148.0},{"yr":2012,"t":147.9},{"yr":2012,"t":147.7},{"yr":2012,"t":147.6},{"yr":2012,"t":147.4},{"yr":2012,"t":147.3},
{"yr":2012,"t":145.1},{"yr":2012,"t":144.5},{"yr":2012,"t":144.3},{"yr":2012,"t":144.1},{"yr":2012,"t":143.3},{"yr":2012,"t":142.6},{"yr":2012,"t":142.4},{"yr":2012,"t":142.2},{"yr":2012,"t":141.8},{"yr":2012,"t":141.5},{"yr":2012,"t":141.3},{"yr":2012,"t":140.9},{"yr":2012,"t":140.5},{"yr":2012,"t":140.2},{"yr":2012,"t":140.0},{"yr":2012,"t":139.6},{"yr":2012,"t":139.3},{"yr":2012,"t":139.2},{"yr":2012,"t":138.6},{"yr":2012,"t":138.3},{"yr":2012,"t":138.0},{"yr":2012,"t":137.6},{"yr":2012,"t":136.8},{"yr":2012,"t":135.1},{"yr":2012,"t":134.2},{"yr":2012,"t":133.9},{"yr":2012,"t":133.7},{"yr":2012,"t":133.1},{"yr":2012,"t":130.8},{"yr":2012,"t":130.5},{"yr":2012,"t":130.2},{"yr":2012,"t":128.6},{"yr":2012,"t":128.3},{"yr":2012,"t":128.2},{"yr":2012,"t":127.0},{"yr":2012,"t":124.9},
{"yr":2013,"t":156.3},{"yr":2013,"t":156.2},{"yr":2013,"t":156.1},{"yr":2013,"t":156.0},{"yr":2013,"t":155.8},{"yr":2013,"t":155.7},{"yr":2013,"t":155.6},{"yr":2013,"t":155.5},{"yr":2013,"t":155.3},{"yr":2013,"t":155.2},{"yr":2013,"t":155.1},{"yr":2013,"t":155.0},{"yr":2013,"t":154.8},{"yr":2013,"t":154.7},{"yr":2013,"t":154.6},{"yr":2013,"t":154.5},{"yr":2013,"t":154.3},{"yr":2013,"t":154.2},{"yr":2013,"t":154.1},{"yr":2013,"t":154.0},{"yr":2013,"t":153.8},{"yr":2013,"t":153.7},{"yr":2013,"t":153.6},{"yr":2013,"t":153.5},{"yr":2013,"t":153.3},{"yr":2013,"t":153.2},{"yr":2013,"t":153.1},{"yr":2013,"t":153.0},{"yr":2013,"t":152.8},{"yr":2013,"t":152.7},{"yr":2013,"t":152.6},{"yr":2013,"t":152.5},{"yr":2013,"t":152.3},{"yr":2013,"t":152.2},{"yr":2013,"t":152.1},{"yr":2013,"t":152.0},{"yr":2013,"t":151.8},{"yr":2013,"t":151.7},{"yr":2013,"t":151.6},{"yr":2013,"t":151.5},{"yr":2013,"t":151.3},{"yr":2013,"t":151.2},{"yr":2013,"t":151.1},{"yr":2013,"t":151.0},{"yr":2013,"t":150.8},{"yr":2013,"t":150.7},{"yr":2013,"t":150.6},{"yr":2013,"t":150.5},{"yr":2013,"t":150.3},{"yr":2013,"t":150.2},{"yr":2013,"t":150.1},{"yr":2013,"t":150.0},{"yr":2013,"t":149.8},{"yr":2013,"t":149.7},{"yr":2013,"t":149.6},{"yr":2013,"t":149.5},{"yr":2013,"t":149.3},{"yr":2013,"t":149.2},{"yr":2013,"t":149.1},{"yr":2013,"t":149.0},{"yr":2013,"t":148.8},{"yr":2013,"t":148.7},{"yr":2013,"t":148.6},{"yr":2013,"t":148.5},{"yr":2013,"t":148.3},{"yr":2013,"t":148.2},{"yr":2013,"t":148.1},{"yr":2013,"t":148.0},{"yr":2013,"t":147.8},{"yr":2013,"t":147.7},{"yr":2013,"t":147.6},{"yr":2013,"t":147.5},{"yr":2013,"t":147.3},{"yr":2013,"t":147.2},{"yr":2013,"t":147.1},{"yr":2013,"t":147.0},
{"yr":2013,"t":146.7},{"yr":2013,"t":146.1},{"yr":2013,"t":145.5},{"yr":2013,"t":145.1},{"yr":2013,"t":144.6},{"yr":2013,"t":144.2},{"yr":2013,"t":142.0},{"yr":2013,"t":141.8},{"yr":2013,"t":139.4},{"yr":2013,"t":138.6},{"yr":2013,"t":138.2},{"yr":2013,"t":137.7},{"yr":2013,"t":137.4},{"yr":2013,"t":136.8},{"yr":2013,"t":136.3},{"yr":2013,"t":134.4},{"yr":2013,"t":130.2},{"yr":2013,"t":129.8},{"yr":2013,"t":129.5},{"yr":2013,"t":129.2},{"yr":2013,"t":128.8},{"yr":2013,"t":128.3},{"yr":2013,"t":127.9},{"yr":2013,"t":126.3},
{"yr":2014,"t":154.9},{"yr":2014,"t":154.8},{"yr":2014,"t":154.6},{"yr":2014,"t":154.5},{"yr":2014,"t":154.3},{"yr":2014,"t":154.2},{"yr":2014,"t":154.0},{"yr":2014,"t":153.9},{"yr":2014,"t":153.7},{"yr":2014,"t":153.6},{"yr":2014,"t":153.4},{"yr":2014,"t":153.3},{"yr":2014,"t":153.1},{"yr":2014,"t":153.0},{"yr":2014,"t":152.8},{"yr":2014,"t":152.7},{"yr":2014,"t":152.5},{"yr":2014,"t":152.4},{"yr":2014,"t":152.2},{"yr":2014,"t":152.1},{"yr":2014,"t":151.9},{"yr":2014,"t":151.8},{"yr":2014,"t":151.6},{"yr":2014,"t":151.5},{"yr":2014,"t":151.3},{"yr":2014,"t":151.2},{"yr":2014,"t":151.0},{"yr":2014,"t":150.9},{"yr":2014,"t":150.7},{"yr":2014,"t":150.6},{"yr":2014,"t":150.4},{"yr":2014,"t":150.3},{"yr":2014,"t":150.1},{"yr":2014,"t":150.0},{"yr":2014,"t":149.8},{"yr":2014,"t":149.7},{"yr":2014,"t":149.5},{"yr":2014,"t":149.4},{"yr":2014,"t":149.2},{"yr":2014,"t":149.1},{"yr":2014,"t":148.9},{"yr":2014,"t":148.8},{"yr":2014,"t":148.6},{"yr":2014,"t":148.5},{"yr":2014,"t":148.3},{"yr":2014,"t":148.2},{"yr":2014,"t":148.0},{"yr":2014,"t":147.9},{"yr":2014,"t":147.7},{"yr":2014,"t":147.6},{"yr":2014,"t":147.4},{"yr":2014,"t":147.3},{"yr":2014,"t":147.1},{"yr":2014,"t":147.0},{"yr":2014,"t":146.8},{"yr":2014,"t":146.7},{"yr":2014,"t":146.5},{"yr":2014,"t":146.4},
{"yr":2014,"t":146.1},{"yr":2014,"t":145.9},{"yr":2014,"t":145.6},{"yr":2014,"t":145.4},{"yr":2014,"t":145.1},{"yr":2014,"t":144.9},{"yr":2014,"t":144.6},{"yr":2014,"t":144.4},{"yr":2014,"t":144.1},{"yr":2014,"t":143.9},{"yr":2014,"t":143.6},{"yr":2014,"t":143.4},{"yr":2014,"t":143.1},{"yr":2014,"t":142.9},
{"yr":2014,"t":141.8},{"yr":2014,"t":141.5},{"yr":2014,"t":141.3},{"yr":2014,"t":140.9},{"yr":2014,"t":140.6},{"yr":2014,"t":140.3},{"yr":2014,"t":140.0},{"yr":2014,"t":139.9},{"yr":2014,"t":139.4},{"yr":2014,"t":138.0},{"yr":2014,"t":137.4},{"yr":2014,"t":137.2},{"yr":2014,"t":137.0},{"yr":2014,"t":136.7},{"yr":2014,"t":134.8},{"yr":2014,"t":134.6},{"yr":2014,"t":134.4},{"yr":2014,"t":134.0},{"yr":2014,"t":133.9},{"yr":2014,"t":132.2},{"yr":2014,"t":132.0},{"yr":2014,"t":131.8},{"yr":2014,"t":131.5},{"yr":2014,"t":131.4},{"yr":2014,"t":128.6},{"yr":2014,"t":127.0},{"yr":2014,"t":128.3},{"yr":2014,"t":124.7},
{"yr":2015,"t":152.4},{"yr":2015,"t":152.3},{"yr":2015,"t":152.2},{"yr":2015,"t":152.1},{"yr":2015,"t":151.9},{"yr":2015,"t":151.8},{"yr":2015,"t":151.7},{"yr":2015,"t":151.6},{"yr":2015,"t":151.4},{"yr":2015,"t":151.3},{"yr":2015,"t":151.2},{"yr":2015,"t":151.1},{"yr":2015,"t":150.9},{"yr":2015,"t":150.8},{"yr":2015,"t":150.7},{"yr":2015,"t":150.6},{"yr":2015,"t":150.4},{"yr":2015,"t":150.3},{"yr":2015,"t":150.2},{"yr":2015,"t":150.1},{"yr":2015,"t":149.9},{"yr":2015,"t":149.8},{"yr":2015,"t":149.7},{"yr":2015,"t":149.6},{"yr":2015,"t":149.4},{"yr":2015,"t":149.3},{"yr":2015,"t":149.2},{"yr":2015,"t":149.1},{"yr":2015,"t":148.9},{"yr":2015,"t":148.8},{"yr":2015,"t":148.7},{"yr":2015,"t":148.6},{"yr":2015,"t":148.4},{"yr":2015,"t":148.3},{"yr":2015,"t":148.2},{"yr":2015,"t":148.1},{"yr":2015,"t":147.9},{"yr":2015,"t":147.8},{"yr":2015,"t":147.7},{"yr":2015,"t":147.6},{"yr":2015,"t":147.4},{"yr":2015,"t":147.3},{"yr":2015,"t":147.2},{"yr":2015,"t":147.1},{"yr":2015,"t":146.9},{"yr":2015,"t":146.8},{"yr":2015,"t":146.7},{"yr":2015,"t":146.6},{"yr":2015,"t":146.4},{"yr":2015,"t":146.3},{"yr":2015,"t":146.2},{"yr":2015,"t":146.1},{"yr":2015,"t":145.9},{"yr":2015,"t":145.8},{"yr":2015,"t":145.7},{"yr":2015,"t":145.6},{"yr":2015,"t":145.4},{"yr":2015,"t":145.3},{"yr":2015,"t":145.2},{"yr":2015,"t":145.1},{"yr":2015,"t":144.9},{"yr":2015,"t":144.8},{"yr":2015,"t":144.7},{"yr":2015,"t":144.6},{"yr":2015,"t":144.4},{"yr":2015,"t":144.3},{"yr":2015,"t":144.2},{"yr":2015,"t":144.1},{"yr":2015,"t":143.9},{"yr":2015,"t":143.8},{"yr":2015,"t":143.7},{"yr":2015,"t":143.6},
{"yr":2015,"t":142.6},{"yr":2015,"t":142.2},{"yr":2015,"t":141.8},{"yr":2015,"t":141.5},{"yr":2015,"t":141.3},{"yr":2015,"t":141.0},{"yr":2015,"t":140.9},{"yr":2015,"t":138.6},{"yr":2015,"t":137.7},{"yr":2015,"t":137.3},{"yr":2015,"t":136.8},{"yr":2015,"t":136.3},{"yr":2015,"t":136.0},{"yr":2015,"t":134.8},{"yr":2015,"t":134.4},{"yr":2015,"t":134.0},{"yr":2015,"t":133.5},{"yr":2015,"t":133.1},{"yr":2015,"t":131.9},{"yr":2015,"t":131.4},{"yr":2015,"t":130.9},{"yr":2015,"t":130.5},{"yr":2015,"t":129.9},{"yr":2015,"t":128.2},{"yr":2015,"t":127.7},{"yr":2015,"t":127.3},{"yr":2015,"t":126.7},{"yr":2015,"t":124.9},
{"yr":2016,"t":150.1},{"yr":2016,"t":150.0},{"yr":2016,"t":149.8},{"yr":2016,"t":149.7},{"yr":2016,"t":149.5},{"yr":2016,"t":149.4},{"yr":2016,"t":149.2},{"yr":2016,"t":149.1},{"yr":2016,"t":148.9},{"yr":2016,"t":148.8},{"yr":2016,"t":148.6},{"yr":2016,"t":148.5},{"yr":2016,"t":148.3},{"yr":2016,"t":148.2},{"yr":2016,"t":148.0},{"yr":2016,"t":147.9},{"yr":2016,"t":147.7},{"yr":2016,"t":147.6},{"yr":2016,"t":147.4},{"yr":2016,"t":147.3},{"yr":2016,"t":147.1},{"yr":2016,"t":147.0},{"yr":2016,"t":146.8},{"yr":2016,"t":146.7},{"yr":2016,"t":146.5},{"yr":2016,"t":146.4},{"yr":2016,"t":146.2},{"yr":2016,"t":146.1},{"yr":2016,"t":145.9},{"yr":2016,"t":145.8},{"yr":2016,"t":145.6},{"yr":2016,"t":145.5},{"yr":2016,"t":145.3},{"yr":2016,"t":145.2},{"yr":2016,"t":145.0},{"yr":2016,"t":144.9},{"yr":2016,"t":144.7},{"yr":2016,"t":144.6},{"yr":2016,"t":144.4},{"yr":2016,"t":144.3},{"yr":2016,"t":144.1},{"yr":2016,"t":144.0},{"yr":2016,"t":143.8},{"yr":2016,"t":143.7},{"yr":2016,"t":143.5},{"yr":2016,"t":143.4},{"yr":2016,"t":143.2},{"yr":2016,"t":143.1},{"yr":2016,"t":142.9},{"yr":2016,"t":142.8},{"yr":2016,"t":142.6},{"yr":2016,"t":142.5},{"yr":2016,"t":142.3},{"yr":2016,"t":142.2},{"yr":2016,"t":142.0},{"yr":2016,"t":141.9},{"yr":2016,"t":141.7},{"yr":2016,"t":141.6},{"yr":2016,"t":141.4},{"yr":2016,"t":141.3},
{"yr":2016,"t":140.9},{"yr":2016,"t":140.7},{"yr":2016,"t":140.5},{"yr":2016,"t":140.2},{"yr":2016,"t":140.0},{"yr":2016,"t":139.8},{"yr":2016,"t":139.6},{"yr":2016,"t":139.3},{"yr":2016,"t":139.2},{"yr":2016,"t":138.8},{"yr":2016,"t":138.6},{"yr":2016,"t":138.4},{"yr":2016,"t":138.2},{"yr":2016,"t":137.7},{"yr":2016,"t":137.5},{"yr":2016,"t":137.3},{"yr":2016,"t":136.8},{"yr":2016,"t":136.6},{"yr":2016,"t":136.0},{"yr":2016,"t":135.5},{"yr":2016,"t":135.3},{"yr":2016,"t":135.1},{"yr":2016,"t":134.7},{"yr":2016,"t":134.4},{"yr":2016,"t":134.2},{"yr":2016,"t":133.8},{"yr":2016,"t":133.6},{"yr":2016,"t":133.4},{"yr":2016,"t":132.9},{"yr":2016,"t":132.5},{"yr":2016,"t":132.2},{"yr":2016,"t":132.1},{"yr":2016,"t":131.8},{"yr":2016,"t":131.5},{"yr":2016,"t":131.1},{"yr":2016,"t":130.8},{"yr":2016,"t":123.3},{"yr":2016,"t":129.9},{"yr":2016,"t":128.0},{"yr":2016,"t":126.7},
{"yr":2017,"t":151.0},{"yr":2017,"t":150.9},{"yr":2017,"t":150.7},{"yr":2017,"t":150.6},{"yr":2017,"t":150.4},{"yr":2017,"t":150.3},{"yr":2017,"t":150.1},{"yr":2017,"t":150.0},{"yr":2017,"t":149.8},{"yr":2017,"t":149.7},{"yr":2017,"t":149.5},{"yr":2017,"t":149.4},{"yr":2017,"t":149.2},{"yr":2017,"t":149.1},{"yr":2017,"t":148.9},{"yr":2017,"t":148.8},{"yr":2017,"t":148.6},{"yr":2017,"t":148.5},{"yr":2017,"t":148.3},{"yr":2017,"t":148.2},{"yr":2017,"t":148.0},{"yr":2017,"t":147.9},{"yr":2017,"t":147.7},{"yr":2017,"t":147.6},{"yr":2017,"t":147.4},{"yr":2017,"t":147.3},{"yr":2017,"t":147.1},{"yr":2017,"t":147.0},
{"yr":2017,"t":146.8},{"yr":2017,"t":146.6},{"yr":2017,"t":146.3},{"yr":2017,"t":146.1},{"yr":2017,"t":145.8},{"yr":2017,"t":145.6},{"yr":2017,"t":145.4},{"yr":2017,"t":145.1},{"yr":2017,"t":144.9},{"yr":2017,"t":144.6},{"yr":2017,"t":144.4},{"yr":2017,"t":144.2},{"yr":2017,"t":143.9},{"yr":2017,"t":143.7},{"yr":2017,"t":143.4},{"yr":2017,"t":143.2},{"yr":2017,"t":143.0},{"yr":2017,"t":142.7},{"yr":2017,"t":142.5},{"yr":2017,"t":142.2},{"yr":2017,"t":142.0},{"yr":2017,"t":141.8},{"yr":2017,"t":141.5},{"yr":2017,"t":141.3},{"yr":2017,"t":141.0},{"yr":2017,"t":140.8},{"yr":2017,"t":140.6},{"yr":2017,"t":140.3},{"yr":2017,"t":140.1},{"yr":2017,"t":139.8},{"yr":2017,"t":139.6},{"yr":2017,"t":139.4},{"yr":2017,"t":139.1},{"yr":2017,"t":138.9},{"yr":2017,"t":138.6},{"yr":2017,"t":138.4},{"yr":2017,"t":138.2},{"yr":2017,"t":137.9},{"yr":2017,"t":137.7},{"yr":2017,"t":137.4},{"yr":2017,"t":137.2},{"yr":2017,"t":137.0},{"yr":2017,"t":136.7},{"yr":2017,"t":136.5},{"yr":2017,"t":136.2},{"yr":2017,"t":136.0},{"yr":2017,"t":135.8},{"yr":2017,"t":135.5},{"yr":2017,"t":135.3},{"yr":2017,"t":135.0},
{"yr":2017,"t":134.0},{"yr":2017,"t":132.8},{"yr":2017,"t":132.6},{"yr":2017,"t":132.4},{"yr":2017,"t":131.9},{"yr":2017,"t":131.7},{"yr":2017,"t":131.5},{"yr":2017,"t":131.2},{"yr":2017,"t":131.1},{"yr":2017,"t":130.6},{"yr":2017,"t":130.4},{"yr":2017,"t":130.2},{"yr":2017,"t":130.0},{"yr":2017,"t":129.8},{"yr":2017,"t":129.5},{"yr":2017,"t":129.3},{"yr":2017,"t":129.1},{"yr":2017,"t":128.9},{"yr":2017,"t":128.5},{"yr":2017,"t":128.2},{"yr":2017,"t":128.0},{"yr":2017,"t":126.0}
]
},
"encoding":{
"x":{"field":"yr","type":"quantitative","scale":{"domain":[2000.5,2017.5],"nice":false,"zero":false},"axis":{"values":[2002,2004,2006,2008,2010,2012,2014,2016],"format":"d","title":"year","labelPadding":30,"titlePadding":18}},
"y":{"field":"t","type":"quantitative","scale":{"domain":[120,220],"nice":false,"zero":false},"axis":{"values":[120,140,160,180,200,220],"title":"marathon time (minutes)","labelPadding":23,"titlePadding":16}}
},
"layer":[
{"data":{"name":"top"},"mark":{"type":"point","filled":true,"size":484,"opacity":0.25},
"encoding":{
"fill":{"datum":"top-100 men","type":"nominal","legend":{"title":null},"scale":{"domain":["London course record","top-100 men","average top-100","winners","new records"],"range":["transparent","#D4982F","transparent","#ffffff","#ffffff"]}},
"stroke":{"datum":"top-100 men","type":"nominal","legend":{"title":null},"scale":{"domain":["London course record","top-100 men","average top-100","winners","new records"],"range":["#D4982F","transparent","#8F6420","#D4982F","#000000"]}},
"shape":{"datum":"top-100 men","type":"nominal","legend":{"title":null},"scale":{"domain":["London course record","top-100 men","average top-100","winners","new records"],"range":["M-5,0H5","circle","M-5,0H5","circle","circle"]}}
}},
{"data":{"name":"rec"},"mark":{"type":"line","interpolate":"step-after","strokeWidth":7,"strokeCap":"butt","strokeJoin":"miter"},
"encoding":{"stroke":{"datum":"London course record","type":"nominal"}}},
{"data":{"name":"avg"},"mark":{"type":"line","strokeWidth":7,"strokeCap":"butt"},
"encoding":{"stroke":{"datum":"average top-100","type":"nominal"},
"strokeDash":{"datum":"average top-100","type":"nominal","legend":{"title":null},"scale":{"domain":["London course record","top-100 men","average top-100","winners","new records"],"range":[[1,0],[1,0],[8,8.7],[1,0],[1,0]]}}}},
{"data":{"name":"win"},"mark":{"type":"point","size":841,"strokeWidth":8,"opacity":1},
"encoding":{"fill":{"datum":"winners","type":"nominal"},"stroke":{"datum":"winners","type":"nominal"},"shape":{"datum":"winners","type":"nominal"}}},
{"data":{"name":"new"},"mark":{"type":"point","size":841,"strokeWidth":8,"opacity":1},
"encoding":{"fill":{"datum":"new records","type":"nominal"},"stroke":{"datum":"new records","type":"nominal"},"shape":{"datum":"new records","type":"nominal"}}}
]
}
